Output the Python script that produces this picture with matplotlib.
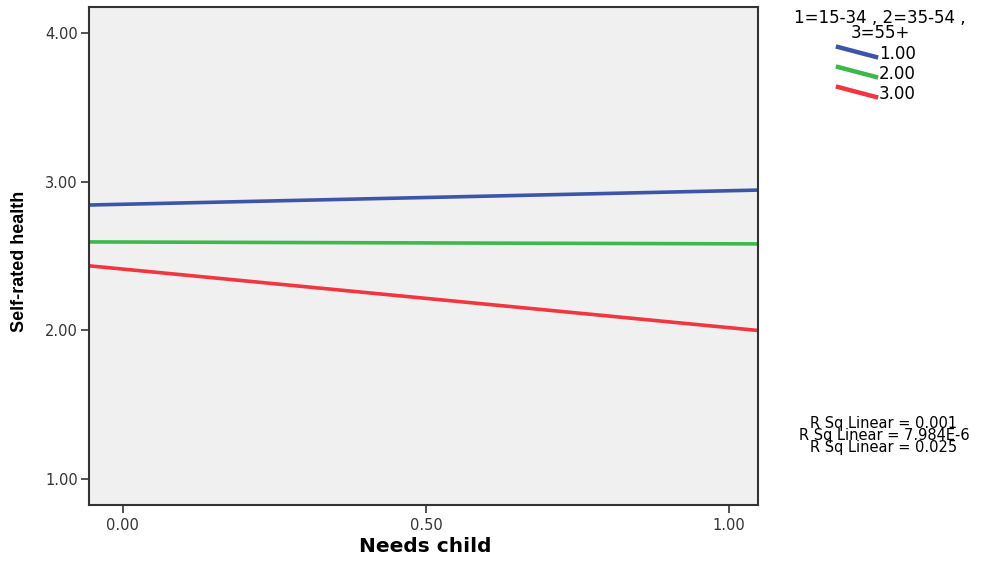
import matplotlib
matplotlib.use("Agg")
import matplotlib.pyplot as plt
import numpy as np
from matplotlib.lines import Line2D

# Fit lines: value of Self-rated health at Needs child = 0 and = 1
groups = ["1.00", "2.00", "3.00"]
fit_at_0 = [2.848, 2.594, 2.412]
fit_at_1 = [2.939, 2.582, 2.018]
colors = ["#3D55A8", "#3CB94A", "#F2353E"]
r_sq = ["R Sq Linear = 0.001", "R Sq Linear = 7.984E-6", "R Sq Linear = 0.025"]
x_ticks = [0.0, 0.5, 1.0]
y_ticks = [1.0, 2.0, 3.0, 4.0]
legend_title = "1=15-34 , 2=35-54 ,\n3=55+"

plt.rcParams['font.family'] = ['DejaVu Sans']

W, H = 986, 562
fig = plt.figure(figsize=(W/100, H/100), dpi=100)
ax = fig.add_axes([89/W, 1-505/H, (758-89)/W, (505-7)/H])
ax.set_facecolor("#F0F0F0")

xlim = (-0.056, 1.048)
ylim = (0.825, 4.175)
xs = np.array(xlim)
for g, a, b, c in zip(groups, fit_at_0, fit_at_1, colors):
    ax.plot(xs, a + (b - a) * xs, color=c, lw=2.6, solid_capstyle='butt')

ax.set_xlim(*xlim)
ax.set_ylim(*ylim)
ax.set_xticks(x_ticks)
ax.set_xticklabels([f"{v:.2f}" for v in x_ticks])
ax.set_yticks(y_ticks)
ax.set_yticklabels([f"{v:.2f}" for v in y_ticks])
ax.tick_params(direction='out', length=6, width=1.2, colors='#333333',
               labelsize=10.5, labelcolor='#333333', pad=2)
ax.tick_params(axis='x', pad=3)
for s in ax.spines.values():
    s.set_linewidth(1.5)
    s.set_color('#333333')

ax.set_xlabel("Needs child", fontsize=14.5, fontweight='bold')
ax.xaxis.set_label_coords((425-89)/(758-89), -(547-505)/(505-7))
ax.xaxis.label.set_va('center')
ax.set_ylabel("Self-rated health", fontsize=13, fontweight='bold',
              family=['Liberation Sans Narrow', 'Liberation Sans'])
ax.yaxis.set_label_coords(-(89-20)/(758-89), (505-261)/(505-7))
ax.yaxis.label.set_va('center')

# Legend (manual, SPSS style)
fig.text(880/W, 1-9/H, legend_title, ha='center', va='top', fontsize=12,
         linespacing=0.78)
ly = [47, 67, 87]
for g, c, y in zip(groups, colors, ly):
    fig.add_artist(Line2D([838/W, 876/W], [1-y/H, 1-(y+10)/H],
                          color=c, lw=3.2, transform=fig.transFigure))
    fig.text(879/W, 1-(y+7)/H, g, ha='left', va='center', fontsize=12)

fig.text(884/W, 1-416/H, "\n".join(r_sq), ha='center', va='top',
         fontsize=10.5, linespacing=0.74)

fig.savefig("out.png", dpi=100, facecolor='white')
